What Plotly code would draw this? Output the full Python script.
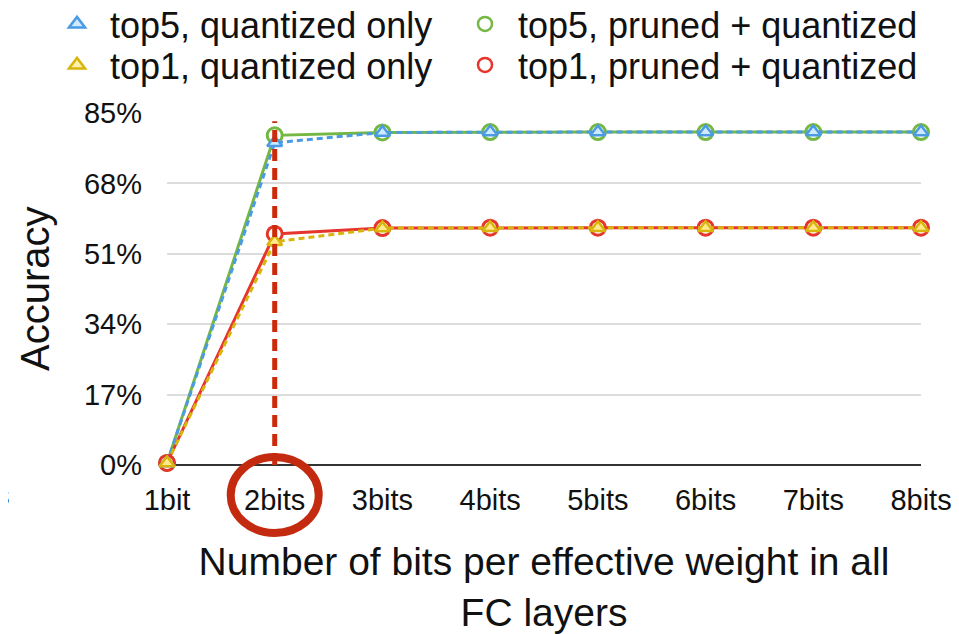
import plotly.graph_objects as go

categories = ["1bit", "2bits", "3bits", "4bits", "5bits", "6bits", "7bits", "8bits"]
top5_quantized = [0.5, 77.8, 80.3, 80.4, 80.4, 80.4, 80.4, 80.4]
top5_pruned = [0.5, 79.6, 80.3, 80.4, 80.4, 80.4, 80.4, 80.4]
top1_quantized = [0.5, 53.9, 57.2, 57.3, 57.3, 57.3, 57.3, 57.3]
top1_pruned = [0.5, 55.8, 57.2, 57.3, 57.3, 57.3, 57.3, 57.3]
y_ticks = [0, 17, 34, 51, 68, 85]
y_tick_labels = ["0%", "17%", "34%", "51%", "68%", "85%"]
highlight_index = 1
highlight_top = 83

FONT = "Liberation Sans, Arial, Helvetica, sans-serif"
BLUE = "#4a9be3"
GREEN = "#74b843"
YELLOW = "#d8b50c"
RED = "#e5352c"
# the page body has an 8px margin, so the figure is sized to fit the 959x634 window
W, H = 951, 626
ML, MR, MT, MB = 159, 38, 105, 169
PW, PH = W - ML - MR, H - MT - MB

fig = go.Figure()

# pruned (solid) drawn first, quantized (dashed) overlaid
fig.add_trace(go.Scatter(x=categories, y=top5_pruned, mode="lines+markers", showlegend=False,
                         line=dict(color=GREEN, width=3),
                         marker=dict(symbol="circle", size=15, color="#ffffff", line=dict(color=GREEN, width=3)),
                         cliponaxis=False))
fig.add_trace(go.Scatter(x=categories, y=top1_pruned, mode="lines+markers", showlegend=False,
                         line=dict(color=RED, width=3),
                         marker=dict(symbol="circle", size=15, color="#ffffff", line=dict(color=RED, width=3)),
                         cliponaxis=False))
fig.add_trace(go.Scatter(x=categories, y=top5_quantized, mode="lines+markers", showlegend=False,
                         line=dict(color=BLUE, width=3, dash="6px,4px"),
                         marker=dict(symbol="triangle-up", size=13, color="#cfeaff", line=dict(color=BLUE, width=2.5)),
                         cliponaxis=False))
fig.add_trace(go.Scatter(x=categories, y=top1_quantized, mode="lines+markers", showlegend=False,
                         line=dict(color=YELLOW, width=3, dash="6px,4px"),
                         marker=dict(symbol="triangle-up", size=13, color="#ffe98a", line=dict(color=YELLOW, width=2.5)),
                         cliponaxis=False))

# legend-only entries, one legend box each for exact placement
fig.add_trace(go.Scatter(x=[None], y=[None], mode="markers", name="top5, quantized only", legend="legend",
                         marker=dict(symbol="triangle-up", size=14, color="#cfeaff", line=dict(color=BLUE, width=2.5))))
fig.add_trace(go.Scatter(x=[None], y=[None], mode="markers", name="top1, quantized only", legend="legend2",
                         marker=dict(symbol="triangle-up", size=14, color="#fff2b0", line=dict(color=YELLOW, width=2.5))))
fig.add_trace(go.Scatter(x=[None], y=[None], mode="markers", name="top5, pruned + quantized", legend="legend3",
                         marker=dict(symbol="circle", size=14, color="#ffffff", line=dict(color=GREEN, width=2.5))))
fig.add_trace(go.Scatter(x=[None], y=[None], mode="markers", name="top1, pruned + quantized", legend="legend4",
                         marker=dict(symbol="circle", size=14, color="#ffffff", line=dict(color=RED, width=2.5))))

# red dashed highlight line
fig.add_shape(type="line", xref="x", yref="y",
              x0=categories[highlight_index], x1=categories[highlight_index], y0=0, y1=highlight_top,
              line=dict(color="#cc2a0a", width=5, dash="12px,7px"), layer="above")
# red ellipse around the highlighted tick label
fig.add_shape(type="circle", xref="paper", yref="paper", xsizemode="pixel", ysizemode="pixel",
              xanchor=highlight_index / (len(categories) - 1), yanchor=0,
              x0=-44, x1=44, y0=-68, y1=8,
              line=dict(color="#c42a10", width=8), layer="above")


def leg(xpix, ycenter):
    return dict(font=dict(family=FONT, size=36, color="#111111"), bgcolor="rgba(0,0,0,0)",
                yref="container", y=1 - ycenter / H, yanchor="middle",
                x=(xpix - ML) / PW, xanchor="left", orientation="v",
                itemwidth=56, borderwidth=0)


fig.update_layout(
    width=W, height=H,
    margin=dict(l=ML, r=MR, t=MT, b=MB, autoexpand=False),
    paper_bgcolor="white", plot_bgcolor="white",
    font=dict(family=FONT, color="#111111"),
    legend=leg(36, 16),
    legend2=leg(36, 57),
    legend3=leg(444, 16),
    legend4=leg(444, 57),
    xaxis=dict(
        type="category", range=[0, 7], showgrid=False, zeroline=False,
        showline=False, ticks="", tickfont=dict(family=FONT, size=29, color="#111111"),
        ticklabelstandoff=15,
        title=dict(text="Number of bits per effective weight in all<br>FC layers",
                   font=dict(family=FONT, size=39, color="#111111"), standoff=32),
    ),
    yaxis=dict(
        range=[0, 85], tickvals=y_ticks, ticktext=y_tick_labels, showgrid=True, gridcolor="#dcdcdc", gridwidth=2,
        zeroline=True, zerolinecolor="#333333", zerolinewidth=2, showline=False, ticks="",
        tickfont=dict(family=FONT, size=29, color="#111111"), ticklabelstandoff=24,
    ),
)

# y-axis title placed as a rotated annotation for exact positioning
fig.add_annotation(text="Accuracy", xref="paper", yref="paper", x=(27 - ML) / PW, y=0.5,
                   textangle=-90, showarrow=False, xanchor="center", yanchor="middle",
                   font=dict(family=FONT, size=40, color="#111111"))

fig.add_annotation(text="s", xref="paper", yref="paper", x=(-5 - ML) / PW, y=-31 / PH,
                   showarrow=False, xanchor="center", yanchor="middle",
                   font=dict(family=FONT, size=27, color="#111111"))

fig.write_html("out.html")
